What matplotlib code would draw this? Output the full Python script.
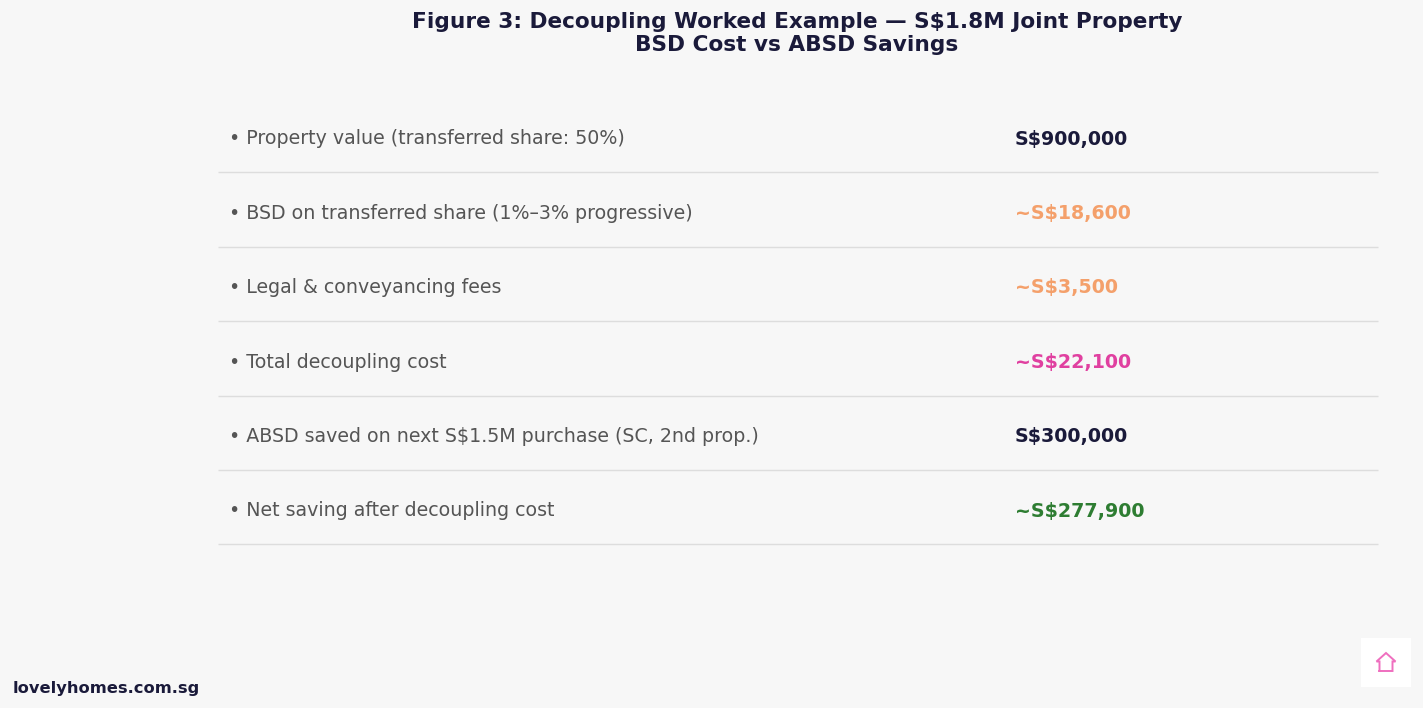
import matplotlib
matplotlib.use("Agg")
import matplotlib.pyplot as plt
from matplotlib.patches import Rectangle
from matplotlib.lines import Line2D

# ---- data ----
title_lines = ["Figure 3: Decoupling Worked Example — S$1.8M Joint Property",
               "BSD Cost vs ABSD Savings"]
row_labels = [
    "Property value (transferred share: 50%)",
    "BSD on transferred share (1%–3% progressive)",
    "Legal & conveyancing fees",
    "Total decoupling cost",
    "ABSD saved on next S$1.5M purchase (SC, 2nd prop.)",
    "Net saving after decoupling cost",
]
row_values = ["S$900,000", "~S$18,600", "~S$3,500", "~S$22,100", "S$300,000", "~S$277,900"]
value_colors = ["#1a1a3a", "#f4a06b", "#f4a06b", "#e040a0", "#1a1a3a", "#2e7d32"]
footer = "lovelyhomes.com.sg"

BG = "#f7f7f7"
W, H = 1423, 708
fig = plt.figure(figsize=(W / 100, H / 100), dpi=100, facecolor=BG)
ax = fig.add_axes([0, 0, 1, 1])
ax.set_xlim(0, W)
ax.set_ylim(H, 0)
ax.axis("off")
ax.set_facecolor(BG)

# title
ax.text(797, 22, title_lines[0], ha="center", va="center", fontsize=15.6,
        fontweight="bold", color="#1a1a3a")
ax.text(797, 45, title_lines[1], ha="center", va="center", fontsize=15.6,
        fontweight="bold", color="#1a1a3a")

row0, step = 139, 74.4
for i, (lab, val, col) in enumerate(zip(row_labels, row_values, value_colors)):
    y = row0 + i * step
    ax.text(229, y, "• " + lab, ha="left", va="center", fontsize=13.7, color="#555555")
    ax.text(1015, y, val, ha="left", va="center", fontsize=13.65, fontweight="bold", color=col)
    ax.plot([218, 1378], [y + 33.3, y + 33.3], color="#dddddd", lw=1.0, solid_capstyle="butt")

# footer
ax.text(13, 688, footer, ha="left", va="center", fontsize=11.7, fontweight="bold", color="#1a1a3a")

# logo box with house icon
ax.add_patch(Rectangle((1361, 638), 50, 49, facecolor="white", edgecolor="none"))
hx = [1379.5, 1379.5, 1376.5, 1386, 1395.5, 1392.5, 1392.5, 1379.5]
hy = [671, 661.5, 661.5, 653, 661.5, 661.5, 671, 671]
ax.add_line(Line2D(hx, hy, color="#ef6fbf", lw=1.4, solid_joinstyle="miter"))

fig.savefig("out.png", dpi=100, facecolor=BG)
